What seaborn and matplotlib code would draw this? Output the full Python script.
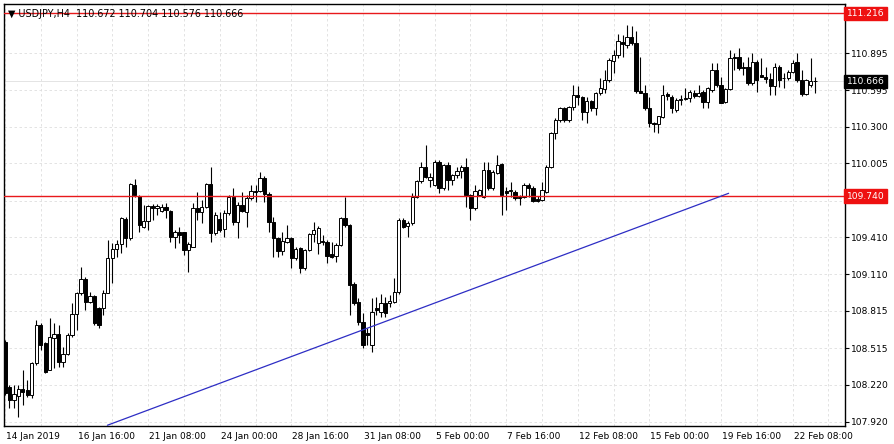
import numpy as np
import pandas as pd
import seaborn as sns
import matplotlib
matplotlib.use("Agg")
import matplotlib.pyplot as plt
import matplotlib.transforms as mtransforms

# USDJPY H4 candles (bar 0 = 14 Jan 2019 00:00)
opens = [108.567, 108.204, 108.097, 108.132, 108.186, 108.178, 108.137, 108.393, 108.702, 108.554,
         108.339, 108.600, 108.629, 108.406, 108.465, 108.621, 108.788, 108.958, 109.073, 108.890,
         108.936, 108.837, 108.837, 108.963, 109.240, 109.312, 109.353, 109.557, 109.406, 109.831,
         109.745, 109.495, 109.541, 109.664, 109.643, 109.621, 109.651, 109.621, 109.414, 109.449,
         109.449, 109.307, 109.334, 109.648, 109.611, 109.656, 109.837, 109.441, 109.557, 109.476,
         109.603, 109.737, 109.535, 109.670, 109.616, 109.724, 109.783, 109.783, 109.890, 109.756,
         109.535, 109.401, 109.299, 109.374, 109.401, 109.240, 109.320, 109.159, 109.307, 109.433,
         109.361, 109.382, 109.374, 109.272, 109.258, 109.347, 109.562, 109.508, 109.030, 108.885,
         108.729, 108.635, 108.541, 108.837, 108.809, 108.877, 108.877, 108.890, 108.966, 109.549,
         109.503, 109.522, 109.737, 109.863, 109.979, 109.871, 109.831, 110.019, 109.804, 109.992,
         109.871, 109.911, 109.944, 109.979, 109.750, 109.643, 109.750, 109.737, 109.952, 109.804,
         109.925, 109.998, 109.783, 109.783, 109.777, 109.737, 109.737, 109.831, 109.804, 109.718,
         109.710, 109.777, 109.979, 110.248, 110.355, 110.449, 110.355, 110.458, 110.557, 110.538,
         110.422, 110.511, 110.449, 110.570, 110.603, 110.678, 110.834, 110.879, 110.987, 110.960,
         111.022, 110.979, 110.592, 110.576, 110.449, 110.334, 110.323, 110.382, 110.565, 110.543,
         110.436, 110.520, 110.525, 110.530, 110.576, 110.549, 110.584, 110.503, 110.597, 110.758,
         110.637, 110.503, 110.603, 110.866, 110.866, 110.785, 110.785, 110.651, 110.825, 110.718,
         110.705, 110.683, 110.629, 110.785, 110.691, 110.691, 110.745, 110.825, 110.678, 110.565,
         110.637, 110.672]
highs = [108.580, 108.218, 108.218, 108.218, 108.339, 108.258, 108.406, 108.742, 108.716, 108.567,
         108.756, 108.716, 108.702, 108.527, 108.635, 108.877, 108.971, 109.172, 109.092, 108.971,
         108.944, 108.850, 108.984, 109.387, 109.361, 109.387, 109.575, 109.575, 109.845, 109.877,
         109.750, 109.670, 109.670, 109.675, 109.675, 109.675, 109.683, 109.629, 109.468, 109.495,
         109.454, 109.374, 109.683, 109.777, 109.710, 109.845, 109.979, 109.616, 109.611, 109.629,
         109.750, 109.809, 109.696, 109.777, 109.750, 109.831, 109.831, 109.938, 109.906, 109.777,
         109.575, 109.414, 109.454, 109.508, 109.414, 109.331, 109.331, 109.315, 109.441, 109.535,
         109.500, 109.428, 109.390, 109.374, 109.360, 109.570, 109.737, 109.520, 109.051, 108.917,
         108.796, 108.677, 108.917, 108.930, 108.952, 108.930, 108.944, 109.080, 109.565, 109.567,
         109.540, 109.764, 109.870, 110.019, 110.154, 109.925, 110.030, 110.030, 110.000, 110.019,
         109.920, 109.979, 109.992, 110.046, 109.760, 109.831, 109.800, 110.019, 110.019, 109.950,
         110.073, 110.010, 109.817, 109.858, 109.790, 109.750, 109.845, 109.845, 109.820, 109.740,
         109.858, 109.990, 110.260, 110.370, 110.460, 110.460, 110.470, 110.637, 110.629, 110.550,
         110.543, 110.520, 110.580, 110.691, 110.758, 110.853, 110.920, 111.049, 111.041, 111.121,
         111.113, 111.075, 110.866, 110.637, 110.543, 110.341, 110.390, 110.637, 110.584, 110.560,
         110.530, 110.557, 110.611, 110.597, 110.597, 110.637, 110.600, 110.620, 110.812, 110.812,
         110.704, 110.610, 110.920, 110.893, 110.933, 110.825, 110.866, 110.893, 110.839, 110.853,
         110.785, 110.732, 110.812, 110.799, 110.732, 110.758, 110.839, 110.893, 110.758, 110.690,
         110.853, 110.704]
lows = [108.140, 108.030, 108.030, 107.962, 108.057, 108.124, 108.111, 108.379, 108.500, 108.312,
        108.339, 108.352, 108.366, 108.366, 108.460, 108.608, 108.662, 108.944, 108.823, 108.877,
        108.702, 108.675, 108.783, 108.958, 109.038, 109.253, 109.280, 109.334, 109.387, 109.737,
        109.454, 109.487, 109.468, 109.549, 109.589, 109.611, 109.562, 109.369, 109.320, 109.361,
        109.266, 109.132, 109.334, 109.549, 109.522, 109.643, 109.374, 109.428, 109.454, 109.414,
        109.589, 109.508, 109.401, 109.616, 109.495, 109.710, 109.696, 109.772, 109.696, 109.449,
        109.253, 109.253, 109.266, 109.361, 109.159, 109.226, 109.119, 109.145, 109.299, 109.374,
        109.272, 109.347, 109.199, 109.240, 109.212, 109.340, 109.490, 108.783, 108.863, 108.702,
        108.514, 108.541, 108.487, 108.783, 108.769, 108.770, 108.850, 108.880, 108.950, 109.482,
        109.414, 109.510, 109.730, 109.850, 109.890, 109.817, 109.820, 109.764, 109.790, 109.791,
        109.831, 109.890, 109.885, 109.656, 109.549, 109.630, 109.740, 109.730, 109.790, 109.790,
        109.920, 109.589, 109.629, 109.737, 109.710, 109.670, 109.724, 109.737, 109.696, 109.690,
        109.700, 109.770, 109.970, 110.200, 110.340, 110.340, 110.341, 110.436, 110.476, 110.355,
        110.328, 110.430, 110.396, 110.557, 110.570, 110.664, 110.732, 110.853, 110.866, 110.933,
        110.960, 110.576, 110.570, 110.436, 110.301, 110.261, 110.248, 110.369, 110.516, 110.409,
        110.422, 110.476, 110.516, 110.503, 110.530, 110.538, 110.449, 110.449, 110.584, 110.624,
        110.490, 110.490, 110.597, 110.758, 110.758, 110.718, 110.637, 110.637, 110.584, 110.700,
        110.651, 110.557, 110.557, 110.624, 110.611, 110.678, 110.732, 110.664, 110.549, 110.557,
        110.624, 110.576]
closes = [108.151, 108.097, 108.143, 108.186, 108.164, 108.137, 108.393, 108.702, 108.541, 108.325,
          108.608, 108.629, 108.406, 108.468, 108.621, 108.788, 108.958, 109.073, 108.890, 108.936,
          108.716, 108.702, 108.963, 109.240, 109.312, 109.353, 109.562, 109.406, 109.837, 109.750,
          109.508, 109.541, 109.664, 109.648, 109.664, 109.651, 109.629, 109.414, 109.454, 109.428,
          109.307, 109.355, 109.648, 109.611, 109.656, 109.837, 109.441, 109.589, 109.468, 109.603,
          109.737, 109.535, 109.670, 109.621, 109.729, 109.783, 109.772, 109.890, 109.756, 109.535,
          109.401, 109.299, 109.379, 109.406, 109.245, 109.315, 109.159, 109.307, 109.433, 109.468,
          109.482, 109.369, 109.258, 109.253, 109.347, 109.562, 109.508, 109.025, 108.877, 108.729,
          108.541, 108.621, 108.809, 108.823, 108.877, 108.796, 108.898, 108.971, 109.549, 109.495,
          109.527, 109.737, 109.863, 109.979, 109.898, 109.898, 110.019, 109.804, 109.992, 109.871,
          109.911, 109.944, 109.979, 109.750, 109.643, 109.783, 109.791, 109.952, 109.804, 109.938,
          109.992, 109.750, 109.764, 109.788, 109.724, 109.724, 109.831, 109.804, 109.702, 109.702,
          109.791, 109.979, 110.248, 110.355, 110.449, 110.355, 110.458, 110.557, 110.538, 110.422,
          110.511, 110.449, 110.570, 110.611, 110.678, 110.839, 110.879, 110.995, 110.968, 111.022,
          110.979, 110.592, 110.576, 110.449, 110.328, 110.323, 110.387, 110.557, 110.549, 110.449,
          110.516, 110.525, 110.530, 110.579, 110.549, 110.576, 110.503, 110.611, 110.758, 110.637,
          110.495, 110.603, 110.853, 110.853, 110.772, 110.775, 110.651, 110.825, 110.678, 110.705,
          110.683, 110.629, 110.785, 110.678, 110.691, 110.745, 110.817, 110.678, 110.565, 110.678,
          110.670, 110.666]

time_labels = ["14 Jan 2019", "16 Jan 16:00", "21 Jan 08:00", "24 Jan 00:00", "28 Jan 16:00",
               "31 Jan 08:00", "5 Feb 00:00", "7 Feb 16:00", "12 Feb 08:00", "15 Feb 00:00",
               "19 Feb 16:00", "22 Feb 08:00"]
price_ticks = [107.920, 108.220, 108.515, 108.815, 109.110, 109.410, 109.705, 110.005,
               110.300, 110.595, 110.895]
level_lines = [111.216, 109.740]
bid_price = 110.666
trend_x = [22.9, 161.7]
trend_y = [107.893, 109.764]

df = pd.DataFrame({"open": opens, "high": highs, "low": lows, "close": closes})
df["bar"] = np.arange(len(df))
df["high"] = df[["open", "high", "close"]].max(axis=1)
df["low"] = df[["open", "low", "close"]].min(axis=1)
df["up"] = df["close"] >= df["open"]

sns.set_theme(style="white")
plt.rcParams["font.family"] = ["DejaVu Sans"]
plt.rcParams["font.size"] = 6.5

fig = plt.figure(figsize=(8.94, 4.44), dpi=100)
ax = fig.add_axes([4 / 894, 18 / 444, 841 / 894, 422 / 444])
ax.set_facecolor("white")

# grid like the terminal: dashed, vertical every 8 bars
for gx in range(0, 190, 8):
    ax.axvline(gx, color="#dedede", lw=0.6, ls=(0, (3, 3)), zorder=0)
for gy in price_ticks:
    ax.axhline(gy, color="#dedede", lw=0.6, ls=(0, (3, 3)), zorder=0)

ax.axhline(bid_price, color="#e4e4e4", lw=0.7, zorder=1)

ax.vlines(df["bar"], df["low"], df["high"], color="black", lw=0.8, zorder=2)
body = (df["close"] - df["open"]).abs().clip(lower=0.004)
bottom = df[["open", "close"]].min(axis=1)
ax.bar(df["bar"], body, bottom=bottom, width=0.74,
       color=np.where(df["up"], "white", "black"), edgecolor="black",
       linewidth=0.7, zorder=3)

for lv in level_lines:
    ax.axhline(lv, color="#e8191b", lw=1.0, zorder=4)

sns.lineplot(x=trend_x, y=trend_y, ax=ax, color="#2d2dc4", lw=0.9, zorder=4)

ax.set_xlim(-0.2, 187.7)
ax.set_ylim(107.887, 111.291)

ax.yaxis.tick_right()
ax.set_yticks(price_ticks)
ax.set_yticklabels([f"{v:.3f}" for v in price_ticks])
ax.tick_params(axis="y", length=3, width=0.8, pad=1.5, colors="black", labelsize=6.6)

ax.set_xticks(range(0, 16 * len(time_labels), 16))
ax.set_xticklabels(time_labels, ha="left")
ax.tick_params(axis="x", length=3, width=0.8, pad=1.5, colors="black", labelsize=6.5)
shift = mtransforms.ScaledTranslation(1 / 100, 0, fig.dpi_scale_trans)
for lab in ax.get_xticklabels():
    lab.set_transform(lab.get_transform() + shift)

for s in ax.spines.values():
    s.set_color("black")
    s.set_linewidth(1.0)

# price tags on the scale, drawn over the tick labels they cover
tag = mtransforms.blended_transform_factory(ax.transAxes, ax.transData)
for lv in level_lines:
    ax.text(1.002, lv, f"{lv:.3f}", transform=tag, ha="left", va="center", color="white",
            fontsize=6.6, clip_on=False, zorder=6,
            bbox=dict(boxstyle="square,pad=0.25", fc="#ee1111", ec="#ee1111"))
ax.text(1.002, bid_price, f"{bid_price:.3f}", transform=tag, ha="left", va="center",
        color="white", fontsize=6.6, clip_on=False, zorder=6,
        bbox=dict(boxstyle="square,pad=0.25", fc="black", ec="black"))

last = df.iloc[-1]
ax.text(0.005, 0.977, "\u25bc USDJPY,H4  {:.3f} {:.3f} {:.3f} {:.3f}".format(
        last["open"], last["high"], last["low"], last["close"]),
        transform=ax.transAxes, ha="left", va="center", fontsize=6.9, color="black", zorder=5)

fig.savefig("out.png", dpi=100)
